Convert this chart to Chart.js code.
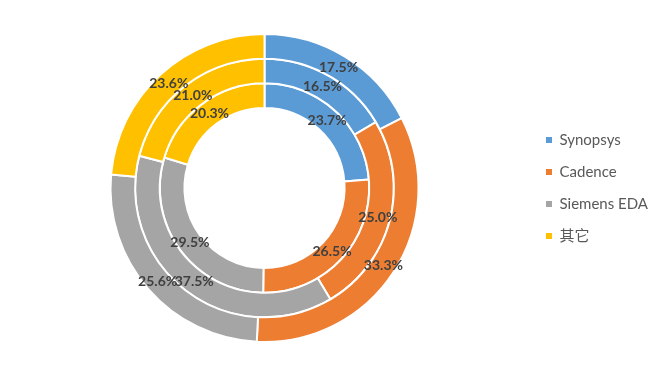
<!DOCTYPE html>
<html>
<head>
<meta charset="utf-8">
<script src="https://cdn.jsdelivr.net/npm/chart.js@4/dist/chart.umd.min.js"></script>
<style>
    html, body { margin: 0; padding: 0; background: #fff; }
    #wrap { width: 659px; height: 377px; }
</style>
</head>
<body>
<div id="wrap"><canvas id="ringChart" width="659" height="377"></canvas></div>
<script>
// Vendors and share per ring (outer -> inner)
const vendors = ['Synopsys', 'Cadence', 'Siemens EDA', '其它'];
const outerShare = [17.5, 33.3, 25.6, 23.6];
const middleShare = [16.5, 25.0, 37.5, 21.0];
const innerShare = [23.7, 26.5, 29.5, 20.3];
const vendorColors = ['#5B9BD5', '#ED7D31', '#A5A5A5', '#FFC000'];

// Draw the % value in the middle of each arc
const arcLabels = {
    id: 'arcLabels',
    afterDatasetsDraw(chart) {
        const ctx = chart.ctx;
        ctx.save();
        ctx.font = 'bold 14px Lato, "Liberation Sans", sans-serif';
        ctx.fillStyle = '#404040';
        ctx.textAlign = 'center';
        ctx.textBaseline = 'middle';
        chart.data.datasets.forEach((ds, i) => {
            const meta = chart.getDatasetMeta(i);
            meta.data.forEach((arc, j) => {
                const pos = arc.tooltipPosition();
                ctx.fillText(ds.data[j].toFixed(1) + '%', pos.x, pos.y);
            });
        });
        ctx.restore();
    }
};

const baseLabels = Chart.overrides.doughnut.plugins.legend.labels.generateLabels;

new Chart(document.getElementById('ringChart'), {
    type: 'doughnut',
    data: {
        labels: vendors,
        datasets: [
            { data: outerShare, backgroundColor: vendorColors, borderColor: '#fff', borderWidth: 2 },
            { data: middleShare, backgroundColor: vendorColors, borderColor: '#fff', borderWidth: 2 },
            { data: innerShare, backgroundColor: vendorColors, borderColor: '#fff', borderWidth: 2 }
        ]
    },
    options: {
        responsive: false,
        animation: false,
        cutout: '52%',
        layout: { padding: { left: 0, right: 1, top: 33, bottom: 34 } },
        plugins: {
            tooltip: { enabled: false },
            legend: {
                position: 'right',
                labels: {
                    boxWidth: 6,
                    boxHeight: 6,
                    padding: 17,
                    color: '#595959',
                    font: { family: 'Lato, "Noto Sans CJK SC", sans-serif', size: 15 },
                    generateLabels(chart) {
                        return baseLabels(chart).map(item => ({ ...item, lineWidth: 0 }));
                    }
                }
            }
        }
    },
    plugins: [arcLabels]
});
</script>
</body>
</html>
